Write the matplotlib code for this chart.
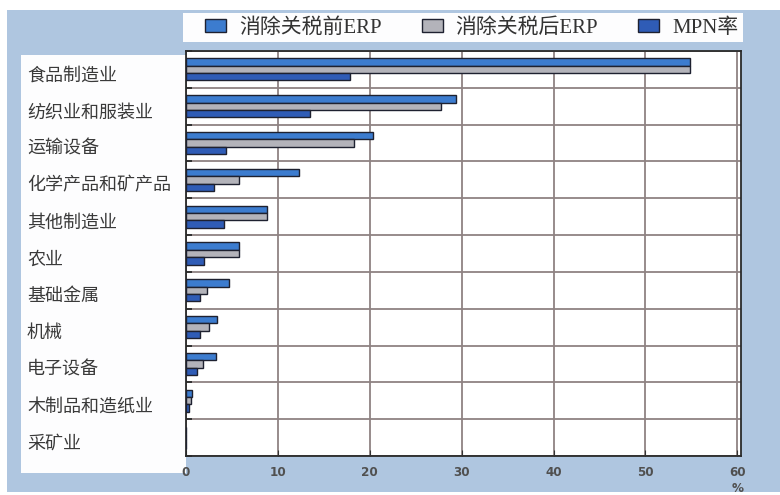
import matplotlib
matplotlib.use("Agg")
import matplotlib.pyplot as plt
from matplotlib.patches import Rectangle, Patch
from matplotlib.transforms import ScaledTranslation
import numpy as np

plt.rcParams['font.family'] = ['Noto Sans CJK SC', 'DejaVu Sans']

categories = ['食品制造业', '纺织业和服装业', '运输设备', '化学产品和矿产品', '其他制造业',
              '农业', '基础金属', '机械', '电子设备', '木制品和造纸业', '采矿业']
erp_before = [54.8, 29.4, 20.3, 12.3, 8.8, 5.8, 4.7, 3.4, 3.3, 0.7, 0.0]
erp_after = [54.8, 27.8, 18.3, 5.8, 8.8, 5.8, 2.3, 2.5, 1.8, 0.55, 0.0]
mpn_rate = [17.9, 13.5, 4.4, 3.0, 4.1, 2.0, 1.5, 1.5, 1.2, 0.35, 0.0]
series_names = ['消除关税前ERP', '消除关税后ERP', 'MPN率']
x_ticks = [0, 10, 20, 30, 40, 50, 60]

W, H = 780, 495
fig = plt.figure(figsize=(W / 100, H / 100), dpi=100)
fig.patch.set_facecolor('white')

def fx(px):
    return px / W

def fy(py):
    return 1 - py / H

# blue backdrop, white label panel and white legend strip
fig.patches.append(Rectangle((fx(7), fy(492)), fx(773), 482 / H, transform=fig.transFigure,
                             facecolor='#afc6e0', edgecolor='none', zorder=-10))
fig.patches.append(Rectangle((fx(21), fy(473)), fx(165), 418 / H, transform=fig.transFigure,
                             facecolor='#fdfdfe', edgecolor='none', zorder=-9))
fig.patches.append(Rectangle((fx(183), fy(42)), fx(560), 29 / H, transform=fig.transFigure,
                             facecolor='#fdfdfe', edgecolor='none', zorder=-9))

ax = fig.add_axes([fx(186), fy(456), fx(741) - fx(186), (456 - 51) / H])
ax.set_facecolor('white')

colors = ['#3c7ccf', '#b3b3ba', '#2f5cb6']
y = np.arange(len(categories))
h = 0.2
for vals, off, c in zip([erp_before, erp_after, mpn_rate], [-0.2, 0.0, 0.2], colors):
    ax.barh(y + off, vals, height=h, color=c, edgecolor='#1e2130', linewidth=1.0, zorder=3)

ax.set_xlim(0, 60.4)
ax.set_ylim(len(categories) - 0.5, -0.5)

# category labels, left aligned inside the white panel
ax.set_yticks(y)
ax.set_yticklabels(categories, fontsize=13, color='#3a3a3a')
ax.tick_params(axis='y', which='major', length=0, pad=(186 - 27) * 0.72)
shift = ScaledTranslation(0, -4 / 100, fig.dpi_scale_trans)
for lab in ax.get_yticklabels():
    lab.set_horizontalalignment('left')
    lab.set_transform(lab.get_transform() + shift)

ax.set_yticks(np.arange(len(categories) + 1) - 0.5, minor=True)
ax.tick_params(axis='y', which='minor', direction='in', length=4, color='#222222', width=1.2)
ax.grid(axis='y', which='minor', color='#8f8282', linewidth=1.3, zorder=1)

tick_font = dict(family=['DejaVu Sans'], fontstretch='condensed', fontweight='bold',
                 fontsize=9.5, color='#505050')
ax.set_xticks(x_ticks)
ax.set_xticklabels([str(t) for t in x_ticks], **tick_font)
ax.tick_params(axis='x', direction='in', length=4, color='#333333', pad=7)
ax.grid(axis='x', which='major', color='#8f8282', linewidth=1.3, zorder=1)
ax.set_axisbelow(True)

for s in ax.spines.values():
    s.set_color('#2a2a2a')
    s.set_linewidth(1.3)

ax.annotate('%', xy=(60, 0), xycoords=('data', 'axes fraction'), xytext=(0, -32 * 0.72),
            textcoords='offset points', ha='center', va='center', **tick_font)

handles = [Patch(facecolor=c, edgecolor='#1e2130', linewidth=1.0) for c in colors]
fs = 15
leg = fig.legend(handles, series_names, loc='center left',
                 bbox_to_anchor=(fx(205), fy(28)), ncol=3,
                 frameon=False, borderaxespad=0, borderpad=0,
                 handlelength=21 / (fs * 100 / 72), handleheight=0.6,
                 handletextpad=13 / (fs * 100 / 72), columnspacing=40 / (fs * 100 / 72),
                 prop={'family': ['Liberation Serif', 'Noto Sans CJK SC'], 'size': fs})
for t in leg.get_texts():
    t.set_color('#333333')

fig.savefig('out.png', dpi=100, facecolor=fig.get_facecolor())
